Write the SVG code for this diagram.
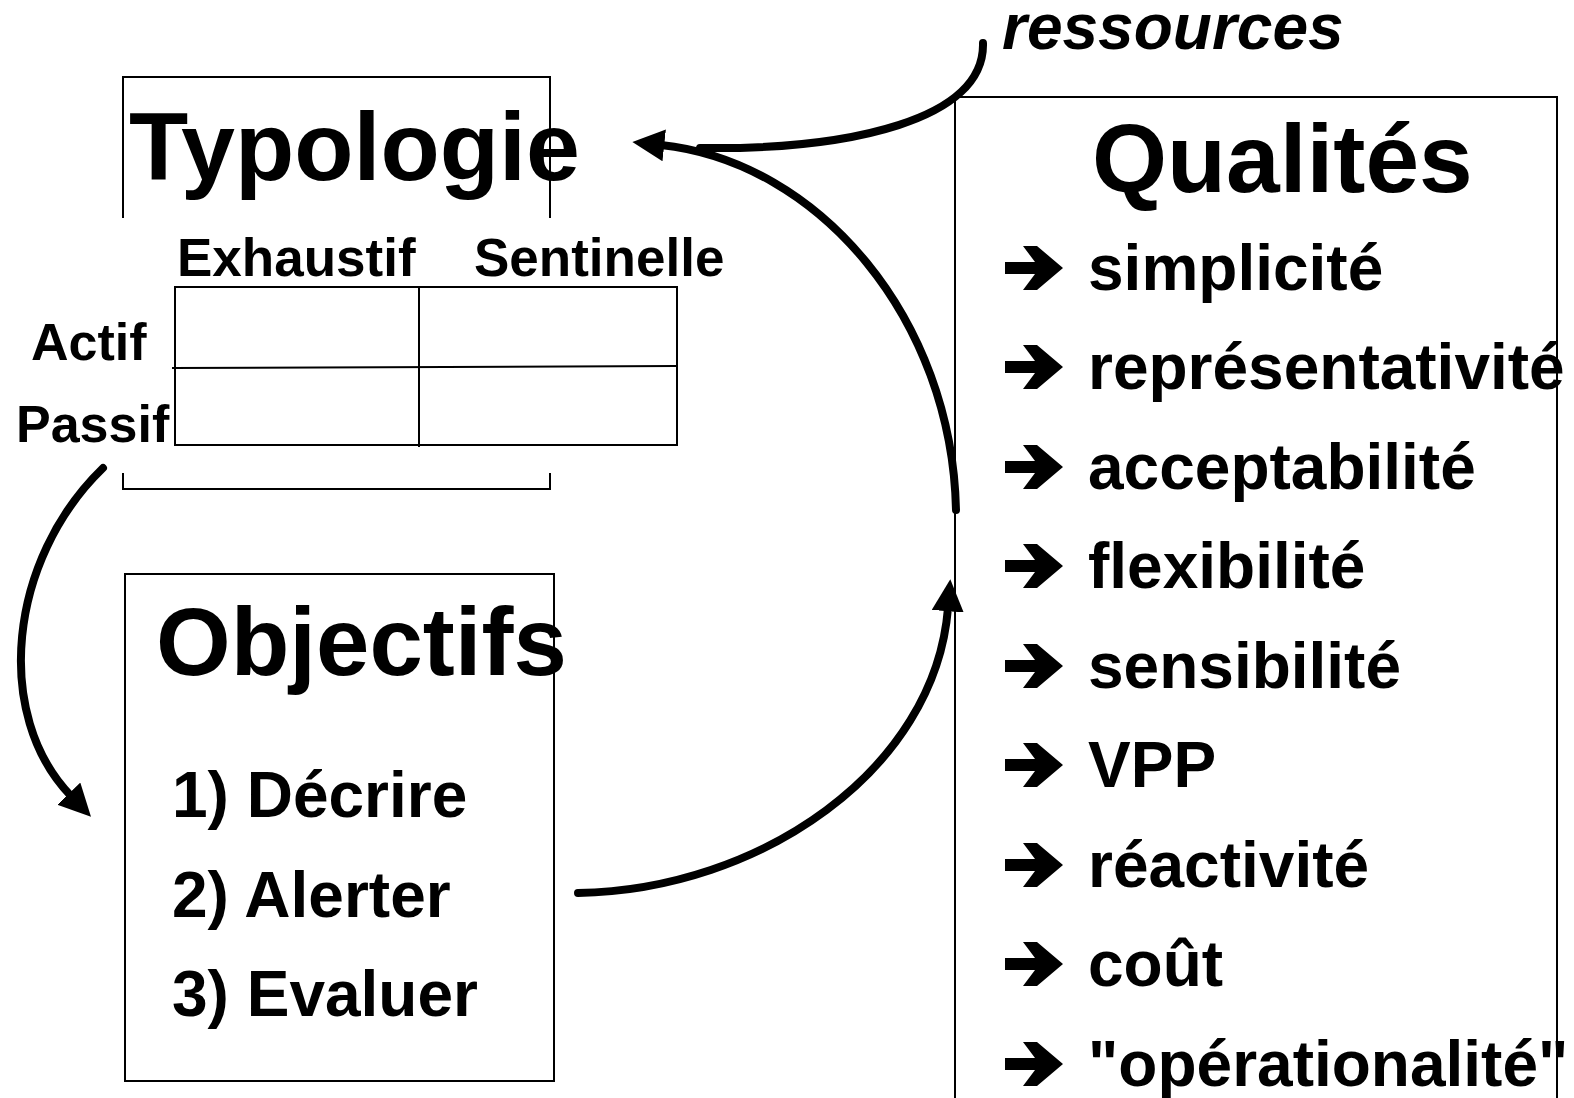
<svg xmlns="http://www.w3.org/2000/svg" width="1574" height="1098" viewBox="0 0 1574 1098">
<style>
.t{font-family:"Liberation Sans",Arial,sans-serif;font-weight:bold;fill:#000}
.big{font-size:97px}
.mid{font-size:64px}
.sm{font-size:53px}
.box{fill:none;stroke:#000;stroke-width:2}
.con{fill:none;stroke:#000;stroke-width:8;stroke-linecap:round}
</style>
<defs>
<marker id="ah" viewBox="0 0 10 10" refX="1" refY="5" markerWidth="32" markerHeight="32" markerUnits="userSpaceOnUse" orient="auto">
<path d="M0,0 L10,5 L0,10 z" fill="#000"/>
</marker>
<path id="bul" d="M0,-6 H30 L18,-22 H32 L58,0 L32,22 H18 L30,6 H0 z" fill="#000"/>
</defs>
<rect width="1574" height="1098" fill="#fff"/>

<g id="typologie">
<path class="box" d="M123,218 V77 H550 V218"/>
<path class="box" d="M123,473 V489 H550 V473"/>
<text class="t big" x="129" y="180">Typologie</text>
<text class="t sm" x="177" y="276">Exhaustif</text>
<text class="t sm" x="474" y="276">Sentinelle</text>
<text class="t sm" x="31" y="360" style="font-size:52px">Actif</text>
<text class="t sm" x="16" y="442" style="font-size:52px">Passif</text>
<rect class="box" x="175" y="287" width="502" height="158"/>
<line class="box" x1="419" y1="287" x2="419" y2="447"/>
<line class="box" x1="172" y1="368" x2="677" y2="366"/>
</g>

<g id="objectifs">
<rect class="box" x="125" y="574" width="429" height="507"/>
<text class="t big" x="156" y="675" style="font-size:96px">Objectifs</text>
<text class="t mid" x="172" y="817">1) Décrire</text>
<text class="t mid" x="172" y="917">2) Alerter</text>
<text class="t mid" x="172" y="1016">3) Evaluer</text>
</g>

<g id="qualites">
<path class="box" d="M955,1100 V97 H1557 V1100"/>
<text class="t big" x="1092" y="192" style="font-size:96.5px">Qualités</text>
<use href="#bul" x="1005" y="268"/>
<text class="t mid" x="1088" y="290">simplicité</text>
<use href="#bul" x="1005" y="367"/>
<text class="t mid" x="1088" y="389">représentativité</text>
<use href="#bul" x="1005" y="467"/>
<text class="t mid" x="1088" y="489">acceptabilité</text>
<use href="#bul" x="1005" y="566"/>
<text class="t mid" x="1088" y="588">flexibilité</text>
<use href="#bul" x="1005" y="666"/>
<text class="t mid" x="1088" y="688">sensibilité</text>
<use href="#bul" x="1005" y="765"/>
<text class="t mid" x="1088" y="787">VPP</text>
<use href="#bul" x="1005" y="865"/>
<text class="t mid" x="1088" y="887">réactivité</text>
<use href="#bul" x="1005" y="964"/>
<text class="t mid" x="1088" y="986">coût</text>
<use href="#bul" x="1005" y="1064"/>
<text class="t mid" x="1088" y="1086">"opérationalité"</text>
</g>

<g id="ressources">
<text class="t mid" x="1002" y="49" font-style="italic">ressources</text>
</g>

<g id="connectors">
<path class="con" d="M983,43 C985,120 850,150 700,148"/>
<path class="con" d="M956,510 C952,320 820,162 661,145" marker-end="url(#ah)"/>
<path class="con" d="M103,468 C8,560 -7,715 71,796" marker-end="url(#ah)"/>
<path class="con" d="M578,893 C760,890 935,770 948,608" marker-end="url(#ah)"/>
</g>
</svg>
